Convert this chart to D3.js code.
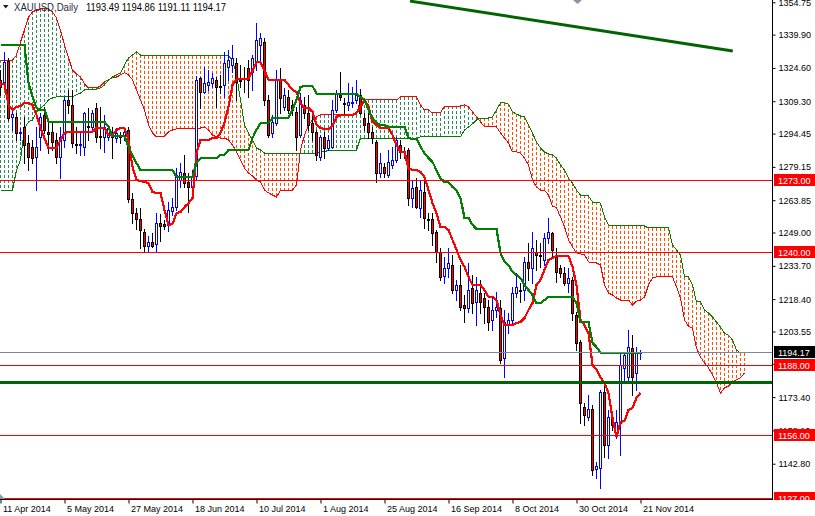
<!DOCTYPE html>
<html><head><meta charset="utf-8">
<script src="https://cdn.jsdelivr.net/npm/d3@7"></script>
<style>
html,body{margin:0;padding:0;background:#fff;overflow:hidden}
svg{display:block}
text{font-family:"Liberation Sans",Arial,sans-serif}
</style></head><body>
<svg id="c" width="815" height="516"></svg>
<script>
// ---------------- DATA ----------------
const symbolName = "XAUUSD,Daily";
const ohlcText = "1193.49 1194.86 1191.11 1194.17";
const dateLabels = ["11 Apr 2014","5 May 2014","27 May 2014","18 Jun 2014","10 Jul 2014","1 Aug 2014","25 Aug 2014","16 Sep 2014","8 Oct 2014","30 Oct 2014","21 Nov 2014"];
const dateBars = [0,16,32,48,64,80,96,112,128,144,160];
const priceTicks = [1354.75,1339.90,1324.60,1309.30,1294.45,1279.15,1263.85,1249.00,1233.70,1218.40,1203.55,1188.70,1173.40,1158.10,1142.80];

const open = [1319.1,1318.2,1327.8,1302.1,1302.1,1294.7,1297.5,1290.1,1288.3,1283.7,
1292.9,1303.0,1295.2,1295.2,1291.5,1283.7,1291.5,1309.9,1307.6,1289.7,
1289.2,1288.3,1297.9,1297.5,1306.2,1293.3,1292.9,1292.9,1293.3,1292.4,
1293.3,1293.8,1296.1,1264.4,1258.0,1255.2,1249.2,1242.8,1244.6,1243.7,
1253.4,1252.9,1252.5,1258.9,1260.7,1273.1,1276.3,1272.2,1269.9,1275.0,
1320.0,1313.5,1316.8,1317.7,1319.1,1316.3,1316.8,1325.0,1325.9,1326.9,
1319.1,1320.0,1324.6,1322.7,1327.3,1335.1,1336.5,1309.9,1294.7,1299.3,
1319.1,1306.7,1311.3,1307.6,1304.4,1293.8,1307.6,1303.9,1299.3,1295.2,
1283.7,1292.9,1287.8,1288.3,1305.3,1312.2,1308.5,1307.6,1308.5,1309.9,
1312.2,1301.6,1299.3,1295.2,1290.6,1276.3,1279.1,1275.4,1280.0,1282.3,
1289.2,1286.4,1286.9,1264.9,1269.9,1260.3,1267.6,1255.2,1255.2,1249.2,
1240.1,1229.0,1232.7,1234.1,1222.6,1224.9,1215.7,1214.3,1223.5,1217.1,
1221.2,1218.9,1214.8,1208.8,1213.4,1214.3,1191.4,1206.5,1208.8,1221.2,
1222.6,1222.6,1235.5,1232.7,1240.1,1238.7,1236.4,1246.5,1248.8,1237.8,
1232.7,1230.4,1225.8,1227.2,1211.1,1198.7,1168.9,1164.3,1168.0,1140.4,
1140.8,1175.8,1151.4,1163.8,1156.0,1161.5,1186.8,1182.6,1196.0,1184.5,
1193.49];
const high = [1323.6,1331.9,1329.2,1305.3,1303.9,1297.0,1302.1,1293.8,1291.5,1297.5,
1303.9,1306.7,1300.7,1299.3,1294.7,1297.5,1311.3,1314.5,1314.5,1297.5,
1294.7,1304.4,1306.2,1305.3,1308.5,1306.7,1303.0,1298.4,1297.5,1297.0,
1295.2,1297.0,1297.5,1267.2,1260.3,1260.3,1250.6,1247.4,1248.8,1258.0,
1257.5,1254.8,1263.0,1264.9,1278.6,1280.9,1284.6,1276.3,1277.7,1320.9,
1320.4,1325.0,1323.6,1322.3,1320.4,1321.4,1331.9,1332.8,1335.1,1329.2,
1325.9,1325.0,1328.2,1330.5,1345.2,1340.6,1338.3,1312.2,1303.0,1323.6,
1324.6,1315.4,1314.5,1309.9,1306.7,1313.1,1311.3,1312.2,1305.3,1296.1,
1293.8,1295.2,1293.8,1309.9,1314.5,1322.7,1310.8,1317.7,1315.9,1319.1,
1314.9,1303.9,1303.9,1297.5,1291.5,1285.5,1280.9,1286.9,1288.3,1292.9,
1291.5,1288.3,1287.8,1273.1,1274.0,1273.1,1273.1,1258.0,1258.0,1250.2,
1241.9,1237.8,1241.9,1238.7,1227.2,1234.1,1220.3,1235.0,1229.5,1228.6,
1227.2,1221.2,1218.0,1219.4,1221.7,1218.0,1213.4,1212.0,1224.0,1230.4,
1225.8,1237.8,1244.2,1249.2,1245.6,1244.2,1248.8,1255.7,1249.2,1241.9,
1234.1,1233.2,1232.7,1228.6,1212.5,1199.6,1170.7,1174.4,1169.8,1143.6,
1176.7,1179.9,1167.5,1166.1,1167.5,1193.7,1194.1,1204.2,1202.0,1196.4,
1194.86];
const low = [1312.2,1317.2,1300.7,1296.1,1291.5,1291.5,1280.9,1277.7,1280.9,1268.5,
1286.9,1294.7,1285.5,1286.9,1280.9,1274.0,1288.3,1303.9,1288.3,1285.5,
1284.6,1284.6,1291.5,1296.1,1290.6,1287.8,1286.0,1291.5,1283.2,1290.6,
1290.1,1291.5,1263.0,1253.4,1250.6,1241.9,1240.5,1240.1,1242.4,1240.5,
1245.1,1250.6,1249.7,1257.1,1259.3,1269.9,1269.9,1258.4,1266.2,1273.1,
1306.2,1313.1,1314.5,1315.9,1306.7,1313.1,1311.3,1319.1,1322.7,1309.9,
1315.9,1313.5,1311.3,1314.5,1323.6,1326.9,1307.6,1292.9,1292.9,1298.4,
1303.9,1305.3,1303.9,1303.0,1286.9,1292.9,1301.6,1296.1,1291.5,1282.3,
1282.3,1283.2,1286.9,1287.8,1304.4,1309.9,1303.9,1305.3,1306.7,1308.5,
1303.4,1296.1,1292.4,1290.1,1272.2,1274.5,1274.5,1274.5,1278.6,1281.4,
1283.2,1283.2,1261.6,1260.7,1260.3,1256.1,1251.1,1250.2,1243.3,1235.5,
1227.2,1225.8,1228.6,1221.2,1218.0,1213.4,1207.9,1212.5,1212.0,1206.5,
1212.0,1207.4,1204.2,1204.2,1210.2,1189.1,1182.6,1202.9,1206.5,1219.4,
1217.1,1218.0,1227.2,1225.8,1231.8,1233.2,1234.1,1244.2,1237.3,1226.3,
1228.6,1224.9,1221.7,1208.8,1195.0,1161.5,1160.6,1162.9,1137.6,1136.3,
1131.7,1145.9,1145.4,1158.3,1154.6,1146.8,1181.3,1180.4,1174.4,1176.7,
1191.11];
const close = [1315.9,1327.3,1301.6,1303.4,1294.7,1295.2,1289.2,1283.7,1283.2,1288.3,
1302.1,1296.1,1294.3,1290.6,1283.7,1292.9,1309.9,1307.6,1290.1,1289.2,
1289.7,1303.9,1297.5,1303.9,1292.9,1292.9,1297.5,1297.0,1292.9,1294.7,
1292.9,1295.2,1264.4,1258.0,1255.2,1250.2,1242.8,1244.6,1242.8,1253.4,
1252.0,1252.0,1259.3,1260.7,1275.4,1276.8,1271.7,1269.9,1275.0,1319.1,
1313.5,1317.7,1318.2,1320.0,1315.9,1315.9,1326.9,1328.2,1329.2,1318.2,
1318.6,1319.5,1319.1,1329.2,1337.4,1338.3,1309.9,1293.8,1299.8,1319.1,
1310.8,1312.2,1305.3,1305.3,1292.9,1309.9,1303.9,1298.4,1295.2,1284.6,
1292.9,1287.8,1291.5,1305.3,1313.1,1311.3,1308.0,1309.0,1309.0,1312.2,
1303.9,1298.4,1295.2,1292.4,1276.3,1280.9,1276.3,1281.4,1282.3,1291.5,
1286.0,1286.0,1264.9,1269.5,1260.7,1268.5,1255.7,1254.8,1248.8,1240.1,
1228.6,1232.7,1235.0,1222.6,1224.9,1214.8,1214.3,1222.6,1216.6,1222.6,
1217.1,1214.8,1207.9,1213.4,1214.8,1190.5,1207.9,1208.8,1221.2,1224.0,
1222.1,1235.5,1232.7,1241.9,1238.7,1238.2,1246.5,1249.2,1241.0,1230.9,
1230.4,1225.8,1228.1,1212.0,1198.3,1170.7,1165.2,1168.0,1139.9,1141.8,
1175.8,1151.4,1164.3,1160.6,1162.0,1188.2,1192.7,1196.4,1182.6,1193.7,
1194.17];

const tenkan = [1317.3,1317.3,1307.6,1305.3,1306.7,1307.1,1308.5,1308.5,1307.6,1303.0,
1297.0,1292.4,1287.8,1287.8,1287.8,1291.5,1294.7,1295.2,1295.2,1295.2,
1295.2,1295.2,1295.2,1295.2,1297.0,1297.0,1297.0,1293.8,1293.8,1296.1,
1297.0,1297.0,1291.5,1279.1,1273.1,1272.6,1272.2,1271.7,1267.6,1267.2,
1267.2,1259.3,1252.5,1252.9,1257.9,1258.4,1260.7,1262.5,1264.8,1285.5,
1291.5,1291.5,1291.5,1292.4,1292.4,1294.7,1299.3,1306.7,1316.8,1319.5,
1319.5,1319.5,1319.5,1323.6,1327.3,1327.3,1323.6,1319.1,1319.1,1319.1,
1319.1,1319.1,1316.8,1314.5,1313.6,1308.1,1306.2,1306.2,1304.4,1298.4,
1297.0,1296.6,1296.6,1297.9,1302.1,1303.0,1303.0,1303.0,1303.0,1303.9,
1306.7,1309.9,1307.1,1299.8,1298.4,1297.0,1297.0,1297.0,1293.8,1289.2,
1286.0,1286.0,1278.6,1277.7,1277.7,1276.8,1274.5,1268.5,1262.5,1257.9,
1251.5,1251.5,1250.2,1245.6,1241.0,1236.4,1233.2,1228.6,1224.9,1224.9,
1224.9,1222.6,1219.4,1219.4,1218.0,1211.1,1206.5,1206.5,1206.5,1207.4,
1207.9,1209.7,1213.4,1216.6,1224.9,1227.2,1231.8,1236.4,1237.3,1238.2,
1238.2,1238.2,1238.2,1233.2,1224.9,1208.8,1206.5,1202.8,1188.2,1185.9,
1182.6,1179.9,1175.3,1163.8,1155.1,1162.0,1162.5,1167.5,1168.4,1173.1,
1175.3];
const kijun = [1335.1,1335.1,1335.1,1335.1,1335.1,1335.1,1335.1,1317.7,1311.3,1306.2,
1305.3,1305.3,1299.8,1299.8,1299.8,1299.8,1299.8,1299.8,1299.8,1299.8,
1299.8,1299.8,1299.8,1299.8,1299.8,1299.8,1299.8,1297.5,1293.3,1293.3,
1293.3,1293.3,1288.3,1284.6,1280.9,1277.7,1277.7,1277.7,1277.7,1277.7,
1277.7,1277.7,1277.7,1277.7,1274.5,1274.5,1274.5,1274.5,1274.5,1280.9,
1283.2,1283.2,1283.2,1283.2,1283.2,1284.6,1284.6,1286.9,1286.9,1286.9,
1286.9,1286.9,1286.9,1292.4,1296.1,1299.3,1299.3,1299.3,1301.6,1301.6,
1301.6,1301.6,1301.6,1305.3,1309.9,1315.9,1316.3,1316.3,1316.3,1312.7,
1312.7,1312.7,1312.7,1312.7,1312.7,1312.7,1312.7,1312.7,1312.7,1312.7,
1311.3,1309.9,1305.3,1301.6,1299.3,1298.4,1298.4,1297.5,1297.5,1297.5,
1297.5,1297.5,1292.4,1292.0,1292.0,1288.3,1285.5,1283.2,1281.4,1277.7,
1274.0,1272.2,1272.2,1269.9,1268.5,1264.8,1255.7,1255.7,1252.5,1250.6,
1250.6,1250.6,1250.6,1250.6,1250.6,1239.6,1235.5,1234.1,1230.9,1229.5,
1228.1,1224.9,1222.6,1220.3,1216.6,1216.6,1218.0,1219.4,1219.4,1219.4,
1219.4,1219.4,1219.4,1219.4,1216.6,1207.9,1207.9,1207.9,1198.3,1196.4,
1193.7,1193.7,1193.7,1193.7,1193.7,1193.7,1193.7,1193.7,1193.7,1193.7,
1193.7];
const spanA = [1328.2,1328.2,1328.2,1328.2,1330.5,1336.5,1342.0,1348.0,1350.3,1351.2,
1351.7,1351.7,1351.7,1350.3,1347.5,1342.0,1335.1,1329.2,1323.6,1321.8,
1320.4,1317.3,1315.4,1315.4,1315.4,1316.3,1318.2,1319.1,1320.0,1320.4,
1321.4,1322.3,1321.4,1319.1,1314.5,1309.9,1305.3,1298.4,1294.7,1292.9,
1292.9,1293.3,1295.2,1296.1,1296.6,1297.0,1297.0,1297.0,1297.0,1297.0,
1297.0,1297.5,1296.1,1293.8,1292.9,1292.4,1292.4,1291.5,1289.2,1286.0,
1282.3,1278.6,1276.3,1275.0,1273.1,1272.2,1268.5,1267.2,1266.2,1265.3,
1268.5,1268.5,1268.5,1268.5,1270.8,1286.9,1293.8,1298.4,1300.7,1302.1,
1303.0,1303.0,1303.0,1303.0,1303.0,1303.0,1303.0,1303.0,1303.0,1303.0,
1309.9,1309.9,1309.9,1309.9,1309.9,1309.9,1309.9,1309.9,1309.9,1309.9,
1311.3,1311.3,1311.3,1311.3,1311.3,1307.6,1305.3,1305.3,1303.9,1303.9,
1303.9,1307.1,1307.1,1307.1,1307.1,1307.1,1307.6,1306.7,1304.4,1302.1,
1299.8,1297.5,1297.5,1297.5,1297.5,1294.7,1292.4,1290.1,1286.0,1286.0,
1285.5,1283.2,1280.0,1273.1,1269.9,1268.5,1268.5,1266.2,1261.2,1260.3,
1256.1,1251.6,1245.6,1242.4,1239.6,1239.2,1238.7,1235.5,1235.0,1235.0,
1234.1,1224.9,1221.2,1220.3,1218.9,1218.0,1218.0,1218.0,1215.7,1217.5,
1218.0,1219.4,1224.9,1228.1,1228.6,1228.6,1228.6,1228.6,1228.6,1224.0,
1218.9,1208.8,1206.0,1205.1,1195.9,1191.8,1189.1,1186.8,1183.6,1179.9,
1175.3,1177.6,1178.5,1180.4,1181.3,1182.2,1184.5];
const spanB = [1268.5,1268.5,1268.5,1268.5,1277.7,1282.3,1297.0,1299.8,1300.7,1304.4,
1306.2,1307.6,1309.9,1310.8,1311.3,1311.3,1311.3,1311.3,1311.3,1312.2,
1313.1,1314.5,1314.9,1314.9,1314.9,1315.4,1316.8,1319.1,1320.4,1321.4,
1322.3,1325.9,1329.2,1330.5,1331.9,1330.5,1330.1,1330.1,1330.1,1330.1,
1330.1,1330.1,1330.1,1330.1,1330.1,1330.1,1330.1,1330.1,1330.1,1330.1,
1330.1,1330.1,1330.1,1330.1,1330.1,1330.1,1330.1,1330.1,1328.2,1321.4,
1309.9,1298.4,1294.7,1291.5,1287.8,1286.9,1285.5,1285.5,1285.5,1285.5,
1285.5,1285.5,1285.5,1285.5,1285.5,1285.5,1285.5,1285.5,1285.5,1285.5,
1286.0,1286.0,1286.9,1286.9,1286.9,1286.9,1286.9,1286.9,1286.9,1286.9,
1292.4,1292.4,1292.4,1292.4,1292.4,1292.4,1292.4,1292.4,1292.4,1292.4,
1292.4,1292.4,1292.4,1292.4,1292.4,1292.9,1292.9,1292.9,1292.9,1292.9,
1292.9,1292.9,1292.9,1292.9,1292.9,1292.9,1296.1,1297.5,1298.9,1300.7,
1301.6,1301.6,1301.6,1302.1,1305.3,1308.5,1308.5,1308.0,1304.4,1303.4,
1302.5,1302.1,1298.4,1294.7,1290.6,1287.8,1286.0,1285.1,1284.6,1283.2,
1280.0,1277.7,1274.0,1271.7,1268.5,1266.2,1266.2,1265.8,1263.0,1263.0,
1262.5,1256.1,1252.5,1252.0,1252.0,1252.0,1252.0,1252.0,1252.0,1252.0,
1252.0,1252.0,1251.1,1251.1,1251.1,1251.1,1251.1,1251.1,1243.3,1241.0,
1238.7,1228.6,1228.6,1224.9,1217.1,1217.1,1213.4,1212.0,1210.2,1207.9,
1205.6,1202.8,1201.9,1199.6,1195.0,1193.7,1193.7];

const redLevels = [1273.00,1240.00,1188.00,1156.00,1127.00];
const supportLevel = 1180.1;
const lastPrice = 1194.17;
const trendBars = [102.5,183.2];
const trendPrices = [1355.3,1332.4];

// ---------------- DRAW ----------------
const svg = d3.select("#c");
const plotW = 772, plotH = 499;
const x = d3.scaleLinear().domain([0,193]).range([0,plotW]);
const y = d3.scaleLinear().domain([1126.6,1355.8]).range([plotH,0]);
const px = i => Math.round(x(i));
const py = v => Math.round(y(v));

const defs = svg.append("defs");
defs.append("clipPath").attr("id","plot").append("rect").attr("x",0).attr("y",0).attr("width",plotW).attr("height",plotH+0.5);
defs.append("clipPath").attr("id","rclip").append("rect").attr("x",plotW).attr("y",0).attr("width",60).attr("height",500);

const g = svg.append("g").attr("clip-path","url(#plot)").attr("shape-rendering","crispEdges");

// cloud hatch
const cloudIdx = d3.range(spanA.length);
g.append("g").selectAll("line").data(cloudIdx).join("line")
  .attr("x1", j => px(j)+0.5).attr("x2", j => px(j)+0.5)
  .attr("y1", j => Math.min(y(spanA[j]), y(spanB[j])))
  .attr("y2", j => Math.max(y(spanA[j]), y(spanB[j])))
  .attr("stroke", j => spanA[j] >= spanB[j] ? "#2e8b57" : "#ff5000")
  .attr("stroke-width",1)
  .attr("stroke-dasharray","3,2");

const lineGen = d3.line().x((d,i) => px(i)+0.5).y(d => y(d));
g.append("path").attr("d", lineGen(spanA)).attr("fill","none").attr("stroke","#ff0000").attr("stroke-width",1);
g.append("path").attr("d", lineGen(spanB)).attr("fill","none").attr("stroke","#008000").attr("stroke-width",1);

// candles
const bars = d3.range(close.length);
const isBull = i => close[i] > open[i];
g.append("g").selectAll("line").data(bars).join("line")
  .attr("x1", i => px(i)+0.5).attr("x2", i => px(i)+0.5)
  .attr("y1", i => py(high[i])).attr("y2", i => py(low[i])+1)
  .attr("stroke", i => isBull(i) ? "#0000ff" : "#000000");
g.append("g").selectAll("rect").data(bars).join("rect")
  .attr("x", i => px(i)-0.5)
  .attr("y", i => py(Math.max(open[i],close[i]))+0.5)
  .attr("width", 2)
  .attr("height", i => Math.max(0, py(Math.min(open[i],close[i])) - py(Math.max(open[i],close[i]))))
  .attr("fill", i => isBull(i) ? "#ffffff" : "#ff0000")
  .attr("stroke", i => isBull(i) ? "#0000ff" : "#000000");

// tenkan / kijun
g.append("path").attr("d", lineGen(tenkan)).attr("fill","none").attr("stroke","#ff0000").attr("stroke-width",2.2);
g.append("path").attr("d", lineGen(kijun)).attr("fill","none").attr("stroke","#008000").attr("stroke-width",2.2);

// horizontal levels
g.selectAll("line.lvl").data(redLevels).join("line").attr("class","lvl")
  .attr("x1",0).attr("x2",plotW).attr("y1", v => py(v)+0.5).attr("y2", v => py(v)+0.5)
  .attr("stroke","#ff0000").attr("stroke-width",1);
g.append("line").attr("x1",0).attr("x2",plotW).attr("y1",py(lastPrice)+0.5).attr("y2",py(lastPrice)+0.5)
  .attr("stroke","#778899").attr("stroke-width",1);
g.append("line").attr("x1",0).attr("x2",plotW).attr("y1",y(supportLevel)).attr("y2",y(supportLevel))
  .attr("stroke","#006400").attr("stroke-width",3);
g.append("line").attr("x1",x(trendBars[0])).attr("y1",y(trendPrices[0]))
  .attr("x2",x(trendBars[1])).attr("y2",y(trendPrices[1]))
  .attr("stroke","#006400").attr("stroke-width",3).attr("shape-rendering","auto");

// small markers
svg.append("path").attr("d","M573,0L582,0L577.5,4Z").attr("fill","#8a96a3");
svg.append("path").attr("d","M0,494L0,499L5,499Z").attr("fill","#8a96a3");

// axes
const yAxis = d3.axisRight(y).tickValues(priceTicks).tickSize(3).tickPadding(3).tickFormat(d => d.toFixed(2));
const ya = svg.append("g").attr("transform",`translate(${plotW+0.5},0)`).call(yAxis);
ya.select(".domain").attr("stroke","#000").attr("d",`M0,0V${plotH+1}`);
ya.selectAll("line").attr("stroke","#000");
ya.selectAll("text").attr("font-size",9).attr("fill","#000").attr("font-family","Liberation Sans, Arial, sans-serif");

const xAxis = d3.axisBottom(x).tickValues(dateBars).tickSize(4).tickSizeOuter(0).tickPadding(2)
  .tickFormat((d,i) => dateLabels[i]);
const xa = svg.append("g").attr("transform",`translate(0.5,${plotH+0.5})`).call(xAxis);
xa.select(".domain").attr("stroke","#000").attr("d",`M-0.5,0H${plotW}`);
xa.selectAll("line").attr("stroke","#000");
xa.selectAll("text").attr("font-size",9).attr("fill","#000").attr("text-anchor","start").attr("dx",2)
  .attr("font-family","Liberation Sans, Arial, sans-serif");

// right label boxes
const rl = svg.append("g").attr("clip-path","url(#rclip)");
const boxes = redLevels.map(v => ({v, fill:"#ff0000"})).concat([{v:lastPrice, fill:"#000000"}]);
rl.selectAll("rect").data(boxes).join("rect")
  .attr("x",plotW+2).attr("y", d => py(d.v)-6).attr("width",43).attr("height",12).attr("fill", d => d.fill);
rl.selectAll("text").data(boxes).join("text")
  .attr("x",plotW+6).attr("y", d => py(d.v)+3.5).attr("font-size",9).attr("fill","#fff")
  .text(d => d.v.toFixed(2));

// title
svg.append("path").attr("d","M3,5L8.5,5L5.75,8.5Z").attr("fill","#1a1a1a");
svg.append("text").attr("x",14).attr("y",11).attr("font-size",10).attr("fill","#1f2d3d")
  .attr("textLength",64).attr("lengthAdjust","spacingAndGlyphs").text(symbolName);
svg.append("text").attr("x",86).attr("y",11).attr("font-size",10).attr("fill","#000")
  .attr("textLength",140).attr("lengthAdjust","spacingAndGlyphs").text(ohlcText);
</script>
</body></html>
